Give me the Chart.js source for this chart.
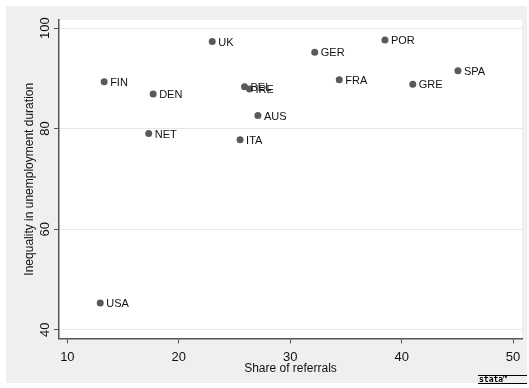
<!DOCTYPE html>
<html lang="en">
<head>
<meta charset="UTF-8" />
<script src="https://cdn.jsdelivr.net/npm/chart.js@4.4.1/dist/chart.umd.min.js"></script>
<title>Referrals and unemployment duration</title>
<style>
  body { margin: 0; background: #fff; }
  #wrap { width: 529px; height: 388px; position: relative; }
</style>
</head>
<body>
<div id="wrap"><canvas id="chart"></canvas></div>
<script>
// values
const countries = ['USA', 'FIN', 'DEN', 'NET', 'UK', 'BEL', 'IRE', 'ITA', 'AUS', 'GER', 'FRA', 'POR', 'GRE', 'SPA'];
const shareReferrals = [12.95, 13.3, 17.7, 17.3, 23.0, 25.9, 26.35, 25.5, 27.1, 32.2, 34.4, 38.5, 41.0, 45.05];
const inequality = [45.3, 89.3, 86.9, 79.0, 97.3, 88.3, 87.9, 77.8, 82.6, 95.2, 89.7, 97.6, 88.8, 91.5];
const xTicks = [10, 20, 30, 40, 50];
const yTicks = [40, 60, 80, 100];

const FONT = "'Liberation Sans', Arial, Helvetica, sans-serif";

const points = shareReferrals.map((x, i) => ({ x: x, y: inequality[i] }));

// grey frame with white plot region, like the stata s2color scheme
const backdrop = {
  id: 'backdrop',
  beforeDraw(chart) {
    const c = chart.ctx, a = chart.chartArea;
    c.save();
    c.fillStyle = '#ffffff';
    c.fillRect(0, 0, chart.width, chart.height);
    c.fillStyle = '#efefef';
    c.fillRect(6, 6, 521, 377);
    c.fillStyle = '#ffffff';
    c.fillRect(a.left, a.top, a.right - a.left, a.bottom - a.top);
    c.restore();
  },
  afterDraw(chart) {
    // the little stata mark in the corner
    const c = chart.ctx;
    c.save();
    c.fillStyle = '#000';
    c.font = "bold 8px 'DejaVu Sans Mono', monospace";
    c.textBaseline = 'alphabetic';
    c.textAlign = 'left';
    c.fillText('stata\u2122', 479, 382);
    c.fillRect(478, 375, 49, 1);
    c.fillRect(478, 383, 49, 1);
    c.restore();
  }
};

const pointLabels = {
  id: 'pointLabels',
  afterDatasetsDraw(chart) {
    const c = chart.ctx;
    const meta = chart.getDatasetMeta(0);
    c.save();
    c.font = '11px ' + FONT;
    c.fillStyle = '#111';
    c.textBaseline = 'middle';
    c.textAlign = 'left';
    meta.data.forEach((el, i) => {
      c.fillText(countries[i], el.x + 6, el.y + 1);
    });
    c.restore();
  }
};

new Chart(document.getElementById('chart'), {
  type: 'scatter',
  data: {
    datasets: [{
      data: points,
      pointRadius: 3.5,
      pointHoverRadius: 3.5,
      pointBackgroundColor: '#5a5a5a',
      pointBorderColor: '#5a5a5a',
      pointBorderWidth: 0
    }]
  },
  options: {
    responsive: true,
    maintainAspectRatio: false,
    animation: false,
    events: [],
    layout: { padding: { left: 6, top: 20, right: 7, bottom: 5 } },
    plugins: {
      legend: { display: false },
      tooltip: { enabled: false }
    },
    scales: {
      x: {
        type: 'linear',
        min: 9.25,
        max: 50.8,
        afterBuildTicks(axis) { axis.ticks = xTicks.map(v => ({ value: v })); },
        afterFit(axis) { axis.height = 44.5; },
        border: { color: '#555', width: 1.5 },
        grid: { drawOnChartArea: false, drawTicks: true, tickLength: 5, tickColor: '#555' },
        ticks: { color: '#111', font: { family: FONT, size: 13 }, padding: 6 },
        title: {
          display: true,
          text: 'Share of referrals',
          color: '#111',
          font: { family: FONT, size: 12 },
          padding: { top: 0, bottom: 7 }
        }
      },
      y: {
        type: 'linear',
        min: 38.25,
        max: 101.6,
        afterBuildTicks(axis) { axis.ticks = yTicks.map(v => ({ value: v })); },
        afterFit(axis) { axis.width = 53; },
        border: { color: '#555', width: 1.5 },
        grid: { color: '#e6e6e6', lineWidth: 1, drawTicks: true, tickLength: 5, tickColor: '#555' },
        ticks: {
          color: '#111',
          font: { family: FONT, size: 13 },
          minRotation: 90,
          maxRotation: 90,
          crossAlign: 'center',
          padding: -2
        },
        title: {
          display: true,
          text: 'Inequality in unemployment duration',
          color: '#111',
          font: { family: FONT, size: 12 },
          padding: { top: 16, bottom: 0 }
        }
      }
    }
  },
  plugins: [backdrop, pointLabels]
});
</script>
</body>
</html>
